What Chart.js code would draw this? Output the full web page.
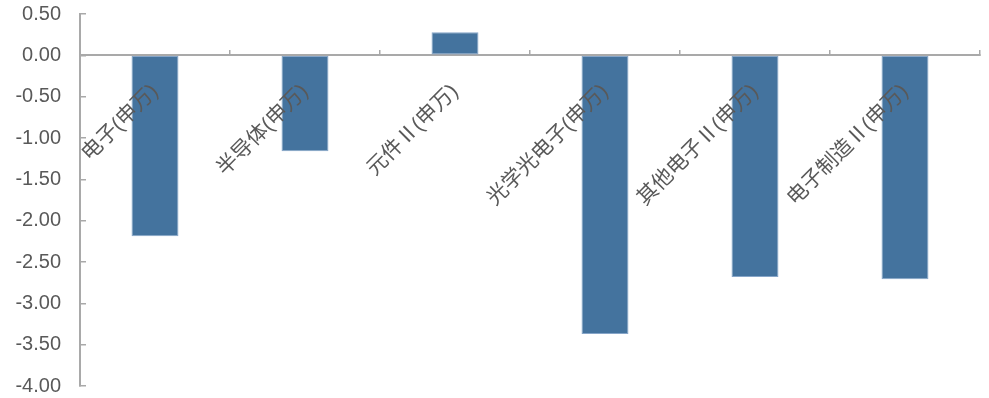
<!DOCTYPE html>
<html>
<head>
<meta charset="utf-8">
<script src="https://cdn.jsdelivr.net/npm/chart.js@4/dist/chart.umd.min.js"></script>
<style>
  html, body { margin: 0; padding: 0; background: #fff; }
  #wrap { width: 989px; height: 398px; }
</style>
</head>
<body>
<div id="wrap"><canvas id="chart"></canvas></div>
<script>
// industry names (SW index)
const categories = ['电子(申万)', '半导体(申万)', '元件Ⅱ(申万)', '光学光电子(申万)', '其他电子Ⅱ(申万)', '电子制造Ⅱ(申万)'];
const values = [-2.19, -1.16, 0.28, -3.37, -2.68, -2.71];
const yMin = -4, yMax = 0.5, yStep = 0.5;

const axisGray = '#A9A9A9';
const textGray = '#595959';
const fontFamily = '"Liberation Sans", Arial, "Noto Sans CJK SC", sans-serif';

const ctx = document.getElementById('chart').getContext('2d');
const chart = new Chart(ctx, {
  type: 'bar',
  data: {
    labels: categories,
    datasets: [{
      data: values,
      backgroundColor: '#44739E',
      borderColor: '#86A5C8',
      borderWidth: 1,
      borderSkipped: false,
      barPercentage: 0.313,
      categoryPercentage: 1
    }]
  },
  options: {
    responsive: true,
    maintainAspectRatio: false,
    animation: false,
    layout: {
      padding: { top: 0, right: 9, bottom: 0, left: 10 }
    },
    plugins: {
      legend: { display: false },
      tooltip: { enabled: false }
    },
    scales: {
      x: {
        position: { y: 0 },
        offset: true,
        grid: {
          offset: true,
          drawOnChartArea: false,
          drawTicks: true,
          tickLength: -6,
          color: axisGray,
          lineWidth: 1.5
        },
        border: { color: axisGray, width: 2 },
        ticks: {
          z: 1, // labels over the bars
          autoSkip: false,
          maxRotation: 45,
          minRotation: 45,
          padding: 30,
          color: textGray,
          font: { family: fontFamily, size: 21 }
        },
        // axis sits at zero inside the plot, it needs no room of its own
        afterFit: s => {
          s.height = 0;
          s.paddingLeft = 0;
          s.paddingRight = 0;
        }
      },
      y: {
        min: yMin,
        max: yMax,
        grid: {
          drawOnChartArea: false,
          drawTicks: true,
          tickLength: -6,
          color: axisGray,
          lineWidth: 1.5
        },
        border: { color: axisGray, width: 2 },
        ticks: {
          stepSize: yStep,
          padding: 25,
          color: textGray,
          font: { family: fontFamily, size: 20 },
          callback: v => v.toFixed(2)
        },
        afterFit: s => {
          s.width = 70;
          s.paddingTop = 14;
          s.paddingBottom = 12;
        }
      }
    }
  }
});
</script>
</body>
</html>
